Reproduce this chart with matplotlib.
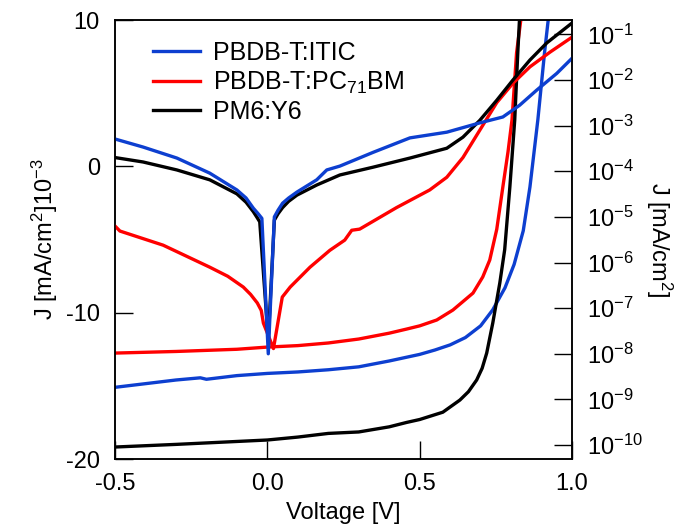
import matplotlib
matplotlib.use("Agg")
import matplotlib.pyplot as plt

plt.rcParams['font.family'] = ['Liberation Sans', 'DejaVu Sans']
plt.rcParams['mathtext.fontset'] = 'custom'
plt.rcParams['mathtext.rm'] = 'Liberation Sans'
plt.rcParams['mathtext.it'] = 'Liberation Sans:italic'
plt.rcParams['mathtext.default'] = 'regular'
plt.rcParams['axes.unicode_minus'] = False

# ==============================
# Colores
# ==============================
c_itic = '#0d3fd0'
c_pcbm = '#ff0000'
c_y6 = '#000000'

# ==============================
# Curvas bajo iluminación (eje izquierdo, lineal) [mA/cm^2]
# ==============================
V_itic_light = [-0.5, -0.4, -0.3, -0.22, -0.2, -0.1, 0.0, 0.1, 0.2, 0.3, 0.4, 0.5,
                0.55, 0.6, 0.65, 0.7, 0.74, 0.78, 0.81, 0.84, 0.862, 0.888, 0.91, 0.93]
J_itic_light = [-15.1, -14.85, -14.6, -14.45, -14.55, -14.3, -14.15, -14.05, -13.9, -13.7,
                -13.3, -12.85, -12.55, -12.2, -11.7, -10.9, -9.8, -8.3, -6.7, -4.4,
                -1.4, 3.2, 7.8, 11.5]

V_pcbm_light = [-0.5, -0.3, -0.1, 0.0, 0.1, 0.2, 0.3, 0.4, 0.457, 0.5, 0.556, 0.609,
                0.65, 0.675, 0.707, 0.73, 0.753, 0.773, 0.79, 0.803, 0.818, 0.835]
J_pcbm_light = [-12.76, -12.65, -12.5, -12.35, -12.25, -12.07, -11.8, -11.4, -11.12,
                -10.9, -10.5, -9.82, -9.1, -8.66, -7.56, -6.4, -4.3, -1.41, 1.0, 3.17,
                7.75, 10.5]

V_y6_light = [-0.5, -0.3, -0.1, 0.0, 0.1, 0.2, 0.3, 0.4, 0.457, 0.5, 0.576, 0.632,
              0.66, 0.687, 0.705, 0.72, 0.74, 0.763, 0.779, 0.796, 0.812, 0.822, 0.83]
J_y6_light = [-19.18, -19.0, -18.8, -18.7, -18.5, -18.25, -18.15, -17.8, -17.5, -17.3,
              -16.8, -15.97, -15.4, -14.6, -13.8, -12.76, -10.7, -7.97, -5.7, -1.41,
              3.17, 7.75, 11.0]

# ==============================
# Curvas en oscuridad (eje derecho, log) [mA/cm^2]
# ==============================
V_itic_dark = [-0.5, -0.408, -0.297, -0.189, -0.1, -0.07, -0.046, -0.03, -0.018, 0.003,
               0.023, 0.035, 0.05, 0.07, 0.097, 0.162, 0.195, 0.238, 0.347, 0.468,
               0.589, 0.697, 0.773, 0.828, 0.884, 0.95, 1.0]
J_itic_dark = [5.1e-4, 3.4e-4, 1.95e-4, 9.1e-5, 3.9e-5, 2.6e-5, 1.55e-5, 1.17e-5, 9.3e-6,
               1.0e-8, 1.0e-5, 1.4e-5, 2.0e-5, 2.6e-5, 3.5e-5, 6.5e-5, 1.07e-4, 1.3e-4,
               2.6e-4, 5.4e-4, 7.2e-4, 1.15e-3, 1.55e-3, 2.8e-3, 6.0e-3, 1.4e-2, 3.0e-2]

V_pcbm_dark = [-0.5, -0.484, -0.342, -0.189, -0.13, -0.079, -0.055, -0.033, -0.02, -0.013,
               0.02, 0.049, 0.075, 0.14, 0.205, 0.254, 0.277, 0.303, 0.424, 0.533,
               0.589, 0.642, 0.697, 0.753, 0.806, 0.862, 0.928, 1.0]
J_pcbm_dark = [6.3e-6, 4.9e-6, 2.4e-6, 7.9e-7, 5.0e-7, 2.9e-7, 2.0e-7, 1.3e-7, 8.9e-8,
               4.7e-8, 1.3e-8, 1.75e-7, 2.9e-7, 7.9e-7, 1.85e-6, 3.1e-6, 5.1e-6, 5.4e-6,
               1.6e-5, 3.9e-5, 7.4e-5, 2.0e-4, 7.9e-4, 3.2e-3, 8.5e-3, 1.95e-2, 4.1e-2,
               8.7e-2]

V_y6_dark = [-0.5, -0.408, -0.297, -0.189, -0.1, -0.07, -0.046, -0.035, -0.025, 0.003,
             0.023, 0.035, 0.05, 0.07, 0.097, 0.162, 0.238, 0.347, 0.468, 0.589, 0.642,
             0.697, 0.753, 0.806, 0.862, 0.917, 1.0]
J_y6_dark = [2.0e-4, 1.6e-4, 1.07e-4, 6.5e-5, 3.2e-5, 2.1e-5, 1.3e-5, 1.0e-5, 7.8e-6,
             2.0e-8, 8.5e-6, 1.17e-5, 1.6e-5, 2.2e-5, 3.0e-5, 5.0e-5, 8.3e-5, 1.23e-4,
             1.95e-4, 3.2e-4, 5.6e-4, 1.3e-3, 3.6e-3, 1.0e-2, 2.75e-2, 6.5e-2, 0.178]

labels = ['PBDB-T:ITIC', 'PBDB-T:PC$_{71}$BM', 'PM6:Y6']

# ==============================
# Figura
# ==============================
fig = plt.figure(figsize=(6.88, 5.24), dpi=100)
ax = fig.add_axes([0.1672, 0.124, 0.6642, 0.8378])
ax2 = ax.twinx()

lw = 2.4
h1, = ax.plot(V_itic_light, J_itic_light, color=c_itic, lw=lw)
h2, = ax.plot(V_pcbm_light, J_pcbm_light, color=c_pcbm, lw=lw)
h3, = ax.plot(V_y6_light, J_y6_light, color=c_y6, lw=lw)

ax2.plot(V_pcbm_dark, J_pcbm_dark, color=c_pcbm, lw=lw)
ax2.plot(V_y6_dark, J_y6_dark, color=c_y6, lw=lw)
ax2.plot(V_itic_dark, J_itic_dark, color=c_itic, lw=lw)

ax.set_xlim(-0.5, 1.0)
ax.set_ylim(-20, 10)
ax.set_xticks([-0.5, 0.0, 0.5, 1.0])
ax.set_xticklabels(['-0.5', '0.0', '0.5', '1.0'])
ax.set_yticks([-20, -10, 0, 10])
ax.set_yticklabels(['-20', '-10', '0', '10'])

ax2.set_yscale('log')
ax2.set_ylim(4.93e-11, 0.207)
ax2.set_yticks([10.0**k for k in range(-10, 0)])
ax2.yaxis.set_minor_locator(matplotlib.ticker.NullLocator())

fs = 17
ax.tick_params(direction='in', length=13, width=1.0, labelsize=fs, pad=10)
ax.tick_params(axis='y', pad=11, right=False)
ax2.tick_params(direction='in', length=13, width=1.0, labelsize=fs, pad=11)
for a in (ax, ax2):
    for s in a.spines.values():
        s.set_linewidth(1.1)

ax.set_xlabel('Voltage [V]', fontsize=fs, labelpad=5)
ax.set_ylabel('J [mA/cm$^2$]10$^{-3}$', fontsize=fs, labelpad=4)
ax2.set_ylabel('J [mA/cm$^2$]', fontsize=fs, rotation=270, labelpad=22)

ax.legend([h1, h2, h3], labels, loc='upper left', bbox_to_anchor=(0.083, 0.952),
          frameon=False, fontsize=18, handlelength=1.9, handletextpad=0.5,
          labelspacing=0.17, borderaxespad=0, borderpad=0)

fig.savefig('out.png', dpi=100)
